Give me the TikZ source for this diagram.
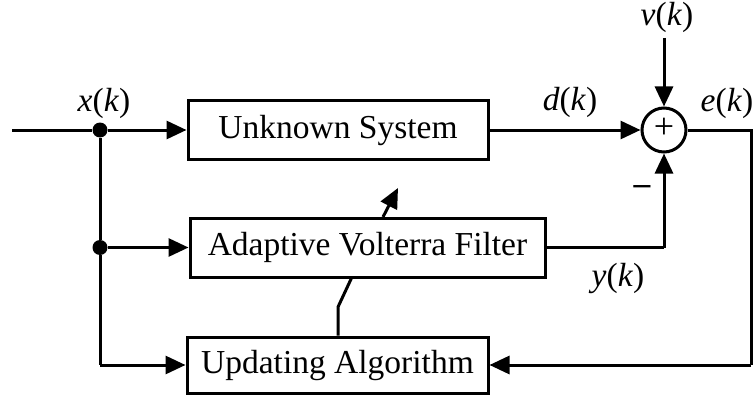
\documentclass[tikz,border=0pt]{standalone}
\usepackage{fontspec}
\setmainfont{Liberation Serif}
\usetikzlibrary{arrows.meta}
\tikzset{
  block/.style={draw, line width=3pt, minimum height=#1, inner sep=0pt, font=\fontsize{33.5}{40}\selectfont},
  wire/.style={line width=3pt},
  arr/.style={wire, -{Triangle[length=20pt,width=18pt]}},
  junc/.style={circle, fill=black, inner sep=0pt, minimum size=15pt},
  lab/.style={inner sep=0pt, font=\fontsize{33.5}{40}\selectfont},
  sumnode/.style={circle, draw, line width=3pt, minimum size=44pt, inner sep=0pt, font=\fontsize{36}{40}\selectfont}
}
\begin{document}
\begin{tikzpicture}[x=1pt,y=-1pt]
\useasboundingbox (0,0) rectangle (753,396);

% blocks
\node[block=58pt, minimum width=300pt] (us)  at (338,130)   {Unknown System};
\node[block=59pt, minimum width=355pt] (avf) at (367.5,247.5) {Adaptive Volterra Filter};
\node[block=56pt, minimum width=301pt] (ua)  at (337.5,365) {Updating Algorithm};
\node[sumnode] (sum) at (664,130) {};
\node[inner sep=0pt, font=\fontsize{36}{40}\selectfont] (plus) at (664,128.5) {+};

% branch points and corners
\coordinate (in) at (12,130);
\node[junc] (j1) at (100,130) {};
\node[junc] (j2) at (100,247.5) {};
\coordinate (j3) at (100,365);
\coordinate (vin) at (664,38);
\coordinate (eright) at (751,130);
\coordinate (ebot) at (751,365);
\coordinate (ycorner) at (664,247.5);
\coordinate (upbend) at (338,307);
\coordinate (upend) at (352,277);
\coordinate (adjtail) at (383,217);
\coordinate (adjtip) at (398,188);

% signal paths
\draw[wire] (in) -- (j1);
\draw[arr] (j1) -- (us.west);
\draw[wire] (j1) -- (j2);
\draw[arr] (j2) -- (avf.west);
\draw[wire] (j2) -- (j3);
\draw[arr] (j3) -- (ua.west);
\draw[arr] (us.east) -- (sum.west);
\draw[arr] (vin) -- (sum.north);
\draw[wire] (avf.east) -- (ycorner);
\draw[arr] (ycorner) -- (sum.south);
\draw[wire] (sum.east) -- (eright) -- (ebot);
\draw[arr] (ebot) -- (ua.east);

% adaptation path
\draw[wire] (ua.north -| upbend) -- (upbend) -- (upend);
\draw[arr] (adjtail) -- (adjtip);

% labels
\node[lab] (lx) at (104,103) {\textit{x}(\textit{k})};
\node[lab] (ld) at (570,102) {\textit{d}(\textit{k})};
\node[lab] (lv) at (667,17)  {\textit{v}(\textit{k})};
\node[lab] (le) at (727,103) {\textit{e}(\textit{k})};
\node[lab] (ly) at (618,278) {\textit{y}(\textit{k})};
\node[lab] (lm) at (642,190) {\textbf{–}};
\end{tikzpicture}
\end{document}
